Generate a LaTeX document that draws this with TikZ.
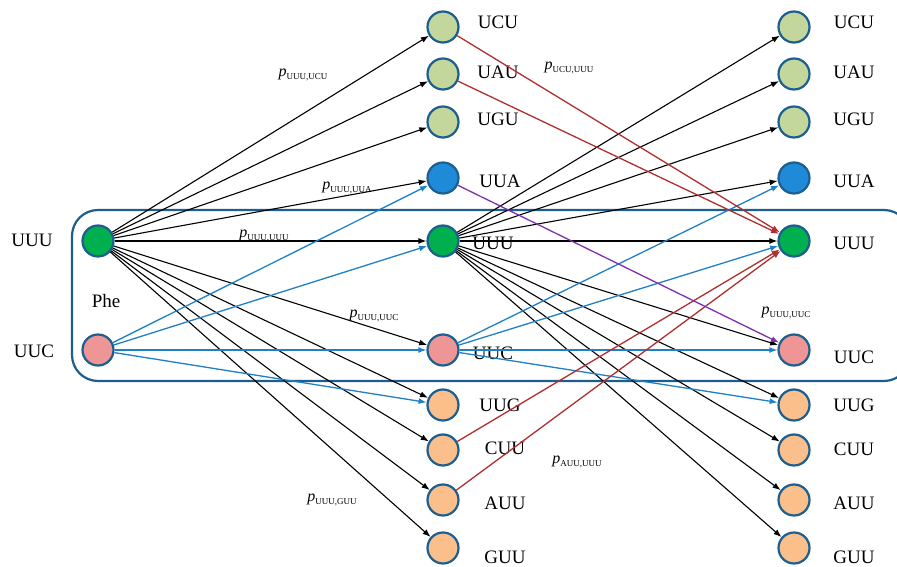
\documentclass[tikz,border=0pt]{standalone}
\usepackage{fontspec}
\setmainfont{Liberation Serif}
\usepackage{tikz}
\usetikzlibrary{positioning, arrows.meta}
\usepackage{xcolor}
\definecolor{rim}{HTML}{1B5E8F}
\definecolor{lg}{HTML}{C3D69B}
\definecolor{db}{HTML}{1F8AD8}
\definecolor{gr}{HTML}{00B04F}
\definecolor{pk}{HTML}{ED9695}
\definecolor{og}{HTML}{FBBF8C}
\definecolor{bl}{HTML}{1F80C6}
\definecolor{rd}{HTML}{B02E2E}
\definecolor{pu}{HTML}{7F2FB2}
\newcommand{\prob}[1]{{\fontsize{16}{16}\selectfont\itshape p}\raisebox{-2.5pt}{\fontsize{9}{9}\selectfont #1}}
\tikzset{
  codon/.style={circle, draw=rim, line width=2.2pt, minimum size=31pt, inner sep=0pt},
  codonlabel/.style={font=\fontsize{19}{22}\selectfont},
  blkarr/.style={-{Latex[length=8pt,width=6pt]}, line width=1.1pt, black},
  bluarr/.style={-{Latex[length=8pt,width=6pt]}, line width=1.3pt, bl},
  redarr/.style={-{Latex[length=8pt,width=6pt]}, line width=1.3pt, rd},
  purarr/.style={-{Latex[length=8pt,width=6pt]}, line width=1.3pt, pu}
}
\begin{document}
\begin{tikzpicture}[x=1pt, y=-1pt]
\useasboundingbox (0,0) rectangle (897,567);
\clip (0,0) rectangle (897,567);
% Phe box
\draw[rim, line width=2.2pt, rounded corners=26pt] (72,210) rectangle (910,381);
\node[codonlabel] (phe) at (106,301) {Phe};
% start codons
\node[codon, fill=gr] (sUUU) at (98,241) {};
\node[codon, fill=pk] (sUUC) at (98,350) {};
\node[codonlabel] (tUUU) at (32,240) {UUU};
\node[codonlabel] (tUUC) at (34,351) {UUC};
% two columns of codons
\foreach \n/\y/\c/\dx/\ya/\yb in {UCU/27/lg/55/22/22, UAU/74/lg/55/72/72, UGU/122/lg/55/119/119,
    UUA/178/db/57/181/181, UUU/241/gr/50/243/243, UUC/350/pk/50/353/357, UUG/405/og/57/405/405,
    CUU/450/og/62/448/449, AUU/500/og/62/503/503, GUU/548/og/62/557/557} {
  \node[codon, fill=\c] (a\n) at (443,\y) {};
  \node[codon, fill=\c] (b\n) at (794,\y) {};
  \node[codonlabel] (la\n) at (443+\dx,\ya) {\n};
  \node[codonlabel] (lb\n) at (854,\yb) {\n};
}
% transitions
\foreach \n in {UCU, UAU, UGU, UUA, UUU, UUC, UUG, CUU, AUU, GUU} {
  \draw[blkarr] (sUUU) -- (a\n);
  \draw[blkarr] (aUUU) -- (b\n);
}
\foreach \n in {UUA, UUU, UUC, UUG} {
  \draw[bluarr] (sUUC) -- (a\n);
  \draw[bluarr] (aUUC) -- (b\n);
}
\foreach \n in {UCU, UAU, CUU, AUU}
  \draw[redarr] (a\n) -- (bUUU);
\draw[purarr] (aUUA) -- (bUUC);
% probabilities
\node (p1) at (303,75) {\prob{UUU,UCU}};
\node (p2) at (569,68) {\prob{UCU,UUU}};
\node (p3) at (347,188) {\prob{UUU,UUA}};
\node (p4) at (264,236) {\prob{UUU,UUU}};
\node (p5) at (374,316) {\prob{UUU,UUC}};
\node (p6) at (786,313) {\prob{UUU,UUC}};
\node (p7) at (577,462) {\prob{AUU,UUU}};
\node (p8) at (332,500) {\prob{UUU,GUU}};
\end{tikzpicture}
\end{document}
